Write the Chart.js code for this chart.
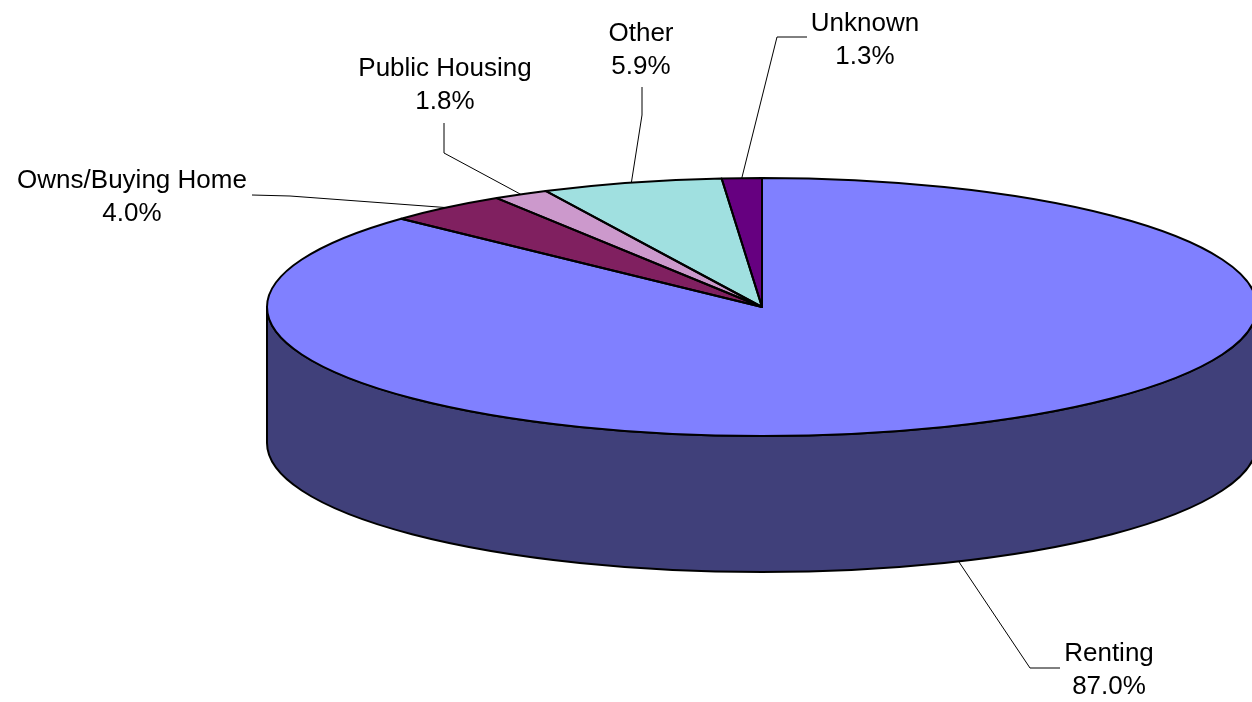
<!DOCTYPE html>
<html><head><meta charset="utf-8">
<script src="https://cdn.jsdelivr.net/npm/chart.js@4.4.0/dist/chart.umd.min.js"></script>
<style>html,body{margin:0;padding:0;background:#fff;overflow:hidden}canvas{display:block}</style>
</head><body>
<canvas id="c" width="1252" height="702"></canvas>
<script>
// ---- data ----
const categories = ['Renting', 'Owns/Buying Home', 'Public Housing', 'Other', 'Unknown'];
const percentages = [87.0, 4.0, 1.8, 5.9, 1.3];
const percentLabels = percentages.map(v => v.toFixed(1) + '%');

// ---- styles / layout ----
const topColors = ['#8080FF', '#802060', '#CC99CC', '#A0E0E0', '#660080'];
const sideColors = ['#40407A', '#401030', '#664C66', '#507070', '#330040'];
const GEOM = { cx: 762, cy: 307, rx: 495, ry: 129, depth: 136 };
const labelLayout = [
  { x: 1109, y: 661, path: [[1060, 668], [1030, 668]] },
  { x: 132, y: 188, path: [[252, 195], [290, 196]] },
  { x: 445, y: 76, path: [[444, 123], [444, 153]] },
  { x: 641, y: 41, path: [[642, 87], [642, 115]] },
  { x: 865, y: 31, path: [[807, 37], [777, 37]] }
];
const FONT = '26px "Liberation Sans", Arial, sans-serif';
const LINE_GAP = 33;
const OUTLINE = 2;

const pie3d = {
  id: 'pie3d',
  beforeDatasetsDraw(chart) {
    const ctx = chart.ctx;
    const meta = chart.getDatasetMeta(0);
    const a0 = meta.data[0];
    const R = a0.outerRadius;
    const { cx, cy, rx, ry, depth } = GEOM;
    ctx.save();
    ctx.lineWidth = OUTLINE;
    ctx.strokeStyle = '#000';
    ctx.lineJoin = 'round';
    meta.data.forEach((arc, i) => {
      const s = arc.startAngle, e = arc.endAngle;
      [[0, Math.PI], [2 * Math.PI, 3 * Math.PI], [-2 * Math.PI, -Math.PI]].forEach(([lo, hi]) => {
        const a1 = Math.max(s, lo), a2 = Math.min(e, hi);
        if (a2 > a1) {
          ctx.beginPath();
          ctx.ellipse(cx, cy, rx, ry, 0, a1, a2, false);
          ctx.lineTo(cx + rx * Math.cos(a2), cy + depth + ry * Math.sin(a2));
          ctx.ellipse(cx, cy + depth, rx, ry, 0, a2, a1, true);
          ctx.closePath();
          ctx.fillStyle = sideColors[i];
          ctx.fill();
          ctx.stroke();
        }
      });
    });
    ctx.restore();
    ctx.save();
    ctx.translate(cx, cy);
    ctx.scale(rx / R, ry / R);
    ctx.translate(-a0.x, -a0.y);
  },
  afterDatasetsDraw(chart) {
    const ctx = chart.ctx;
    ctx.restore();
    const meta = chart.getDatasetMeta(0);
    const a0 = meta.data[0];
    const R = a0.outerRadius;
    const { cx, cy, rx, ry, depth } = GEOM;
    meta.data.forEach(arc => {
      ctx.save();
      ctx.translate(cx, cy);
      ctx.scale(rx / R, ry / R);
      ctx.translate(-arc.x, -arc.y);
      ctx.beginPath();
      ctx.moveTo(arc.x, arc.y);
      ctx.arc(arc.x, arc.y, arc.outerRadius, arc.startAngle, arc.endAngle);
      ctx.closePath();
      ctx.restore();
      ctx.lineWidth = OUTLINE;
      ctx.strokeStyle = '#000';
      ctx.lineJoin = 'round';
      ctx.stroke();
    });
    ctx.save();
    ctx.font = FONT;
    ctx.fillStyle = '#000';
    ctx.textAlign = 'center';
    ctx.textBaseline = 'alphabetic';
    meta.data.forEach((arc, i) => {
      const L = labelLayout[i];
      const mid = (arc.startAngle + arc.endAngle) / 2;
      const sn = Math.sin(mid);
      const ex = cx + rx * Math.cos(mid);
      const ey = cy + ry * sn + (sn > 0 ? depth : 0);
      ctx.beginPath();
      ctx.moveTo(L.path[0][0], L.path[0][1]);
      for (let k = 1; k < L.path.length; k++) ctx.lineTo(L.path[k][0], L.path[k][1]);
      ctx.lineTo(ex, ey);
      ctx.lineWidth = 1;
      ctx.strokeStyle = '#000';
      ctx.stroke();
      ctx.fillText(categories[i], L.x, L.y);
      ctx.fillText(percentLabels[i], L.x, L.y + LINE_GAP);
    });
    ctx.restore();
  }
};

new Chart(document.getElementById('c'), {
  type: 'pie',
  data: {
    labels: categories,
    datasets: [{
      data: percentages,
      backgroundColor: topColors,
      borderWidth: 0,
      clip: false
    }]
  },
  options: {
    responsive: false,
    devicePixelRatio: 1,
    animation: false,
    events: [],
    layout: { padding: 0 },
    plugins: { legend: { display: false }, tooltip: { enabled: false } }
  },
  plugins: [pie3d]
});
</script>
</body></html>
